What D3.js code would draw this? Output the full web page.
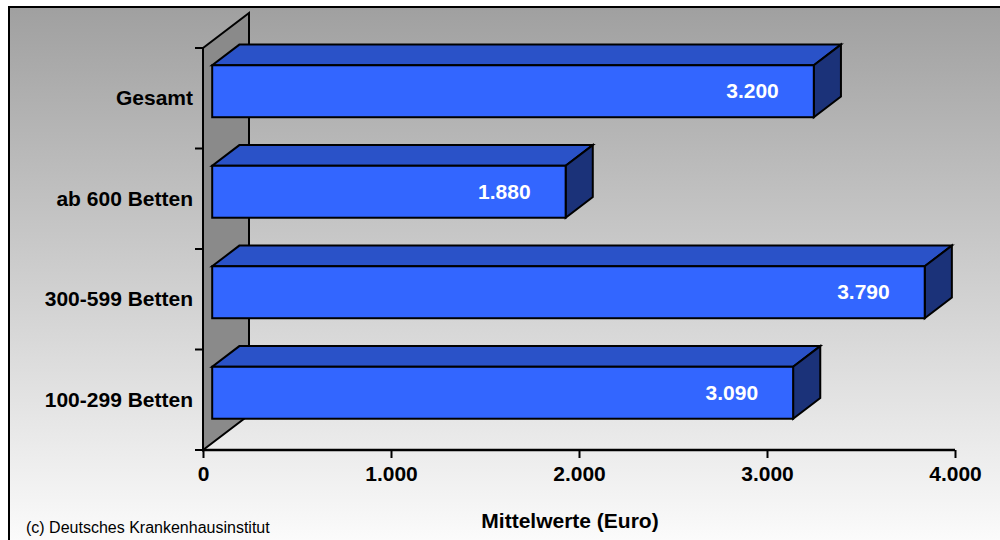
<!DOCTYPE html>
<html><head><meta charset="utf-8">
<script src="https://cdn.jsdelivr.net/npm/d3@7"></script>
<style>html,body{margin:0;padding:0;background:#fff;}svg{display:block;}</style>
</head><body>
<svg id="c" width="1000" height="540"></svg>
<script>
const categories = ["Gesamt", "ab 600 Betten", "300-599 Betten", "100-299 Betten"];
const values = [3200, 1880, 3790, 3090];
const valueLabels = ["3.200", "1.880", "3.790", "3.090"];
const tickValues = [0, 1000, 2000, 3000, 4000];
const tickLabels = ["0", "1.000", "2.000", "3.000", "4.000"];
const axisTitle = "Mittelwerte (Euro)";
const credit = "(c) Deutsches Krankenhausinstitut";

const svg = d3.select("#c");
const FONT = "'Liberation Sans', Arial, sans-serif";

// background gradient
const defs = svg.append("defs");
const g = defs.append("linearGradient").attr("id","bg").attr("x1",0).attr("y1",0).attr("x2",0).attr("y2",1);
g.append("stop").attr("offset","0%").attr("stop-color","#a0a0a0");
g.append("stop").attr("offset","100%").attr("stop-color","#fcfcfc");
svg.append("rect").attr("x",9).attr("y",7).attr("width",1000).attr("height",540)
  .attr("fill","url(#bg)").attr("stroke","#000").attr("stroke-width",2);

// scales
const x = d3.scaleLinear().domain([0,4000]).range([203,955]);
const y = d3.scaleBand().domain(categories).range([48,450]).paddingInner(0.483).paddingOuter(0.2415);
const yb = d3.scaleBand().domain(categories).range([48,450]);
const DX = 46, DY = -35;           // wall depth
const F0 = 0.2, F1 = 0.79;          // bar depth fractions

// side wall
const x0 = x(0), yTop = 48, yBot = 450;
svg.append("polygon")
  .attr("points", [[x0,yTop],[x0+DX,yTop+DY],[x0+DX,yBot+DY],[x0,yBot]].map(p=>p.join(",")).join(" "))
  .attr("fill","#8a8a8a").attr("stroke","#000").attr("stroke-width",2).attr("stroke-linejoin","miter");

// left ticks at band boundaries
const bounds = categories.map(c=>yb(c)).concat([yBot]);
svg.selectAll("line.lt").data(bounds).enter().append("line")
  .attr("x1",x0-8).attr("x2",x0).attr("y1",d=>d).attr("y2",d=>d)
  .attr("stroke","#000").attr("stroke-width",2);

// category labels
svg.selectAll("text.cat").data(categories).enter().append("text")
  .attr("x",193).attr("y",d=>yb(d)+yb.bandwidth()/2+7)
  .attr("text-anchor","end").attr("font-family",FONT).attr("font-weight","bold")
  .attr("font-size",21).attr("fill","#000").text(d=>d);

// x axis
const axis = d3.axisBottom(x).tickValues(tickValues).tickSize(8).tickFormat((d,i)=>tickLabels[i]);
const ax = svg.append("g").attr("transform",`translate(0,${yBot})`).call(axis);
ax.select(".domain").attr("stroke","#000").attr("stroke-width",2.5).attr("d",`M${x(0)},0H${x(4000)}`);
ax.selectAll(".tick line").attr("stroke","#000").attr("stroke-width",2);
ax.selectAll(".tick text").attr("font-family",FONT).attr("font-weight","bold").attr("font-size",21)
  .attr("fill","#000").attr("y",16).attr("dy","0.71em");

// bars
const fx = F0*DX, fy = F0*DY;
const ddx = (F1-F0)*DX, ddy = (F1-F0)*DY;
const bars = svg.selectAll("g.bar").data(categories.map((c,i)=>({c,v:values[i],l:valueLabels[i]}))).enter().append("g");
bars.each(function(d){
  const s = d3.select(this);
  const xa = x(0)+fx, xe = x(d.v)+fx, ya = y(d.c)+fy, ye = ya + y.bandwidth();
  const pts = a=>a.map(p=>p.join(",")).join(" ");
  s.append("polygon").attr("points",pts([[xa,ya],[xe,ya],[xe+ddx,ya+ddy],[xa+ddx,ya+ddy]]))
    .attr("fill","#2a52c8").attr("stroke","#000").attr("stroke-width",2).attr("stroke-linejoin","miter");
  s.append("polygon").attr("points",pts([[xe,ya],[xe+ddx,ya+ddy],[xe+ddx,ye+ddy],[xe,ye]]))
    .attr("fill","#1b3279").attr("stroke","#000").attr("stroke-width",2).attr("stroke-linejoin","miter");
  s.append("rect").attr("x",xa).attr("y",ya).attr("width",xe-xa).attr("height",ye-ya)
    .attr("fill","#3366ff").attr("stroke","#000").attr("stroke-width",2);
  s.append("text").attr("x",xe-35).attr("y",(ya+ye)/2+7)
    .attr("text-anchor","end").attr("font-family",FONT).attr("font-weight","bold")
    .attr("font-size",21).attr("fill","#fff").text(d.l);
});

// axis title and credit
svg.append("text").attr("x",570).attr("y",528).attr("text-anchor","middle")
  .attr("font-family",FONT).attr("font-weight","bold").attr("font-size",21).attr("fill","#000").text(axisTitle);
svg.append("text").attr("x",26).attr("y",533)
  .attr("font-family",FONT).attr("font-size",16).attr("fill","#000").text(credit);
</script>
</body></html>
